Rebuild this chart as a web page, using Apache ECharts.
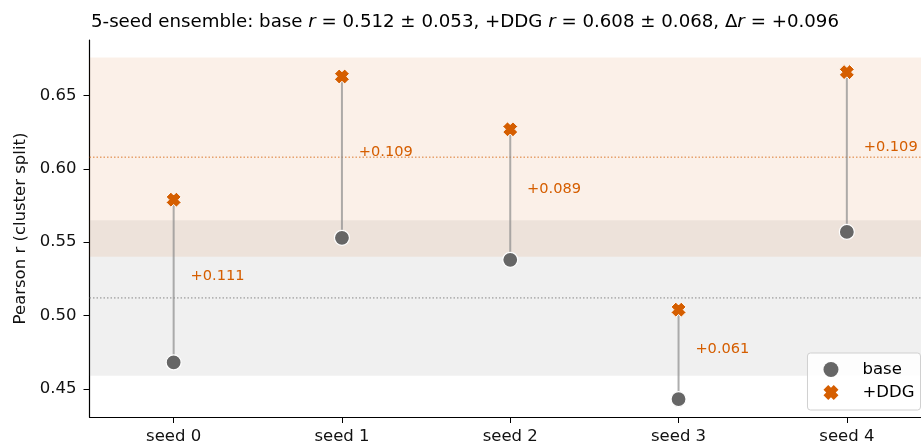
<!DOCTYPE html>
<html>
<head>
<meta charset="utf-8">
<script src="https://cdn.jsdelivr.net/npm/echarts@6/dist/echarts.min.js"></script>
<style>html,body{margin:0;padding:0;background:#fff}#c{width:921px;height:445px}</style>
</head>
<body>
<div id="c"></div>
<script>
const seeds = ['seed 0', 'seed 1', 'seed 2', 'seed 3', 'seed 4'];
const baseVals = [0.468, 0.553, 0.538, 0.443, 0.557];
const ddgVals = [0.579, 0.663, 0.627, 0.504, 0.666];
const deltaLabels = ['+0.111', '+0.109', '+0.089', '+0.061', '+0.109'];
const yTicks = [0.45, 0.50, 0.55, 0.60, 0.65];
const baseMean = 0.512, baseStd = 0.053;
const ddgMean = 0.608, ddgStd = 0.068;
const deltaMean = '+0.096';

const ORANGE = '#D55E00';
const FONT = 'DejaVu Sans';
const XPATH = 'path://M-1.1,-3 L0,-1.9 L1.1,-3 L3,-1.1 L1.9,0 L3,1.1 L1.1,3 L0,1.9 L-1.1,3 L-3,1.1 L-1.9,0 L-3,-1.1 Z';

const chart = echarts.init(document.getElementById('c'), null, {renderer: 'canvas'});
const idx = seeds.map((s, i) => i);

chart.setOption({
  animation: false,
  backgroundColor: '#fff',
  textStyle: {fontFamily: FONT},
  title: {
    left: 86, top: 8,
    text: '{n|5-seed ensemble: base }{i|r}{n| = ' + baseMean.toFixed(3) + ' ± ' + baseStd.toFixed(3) +
          ', +DDG }{i|r}{n| = ' + ddgMean.toFixed(3) + ' ± ' + ddgStd.toFixed(3) + ', Δ}{i|r}{n| = ' + deltaMean + '}',
    textStyle: {
      fontWeight: 'normal',
      rich: {
        n: {fontFamily: FONT, fontSize: 18.2, color: '#000', fontWeight: 'normal'},
        i: {fontFamily: FONT, fontSize: 18.2, color: '#000', fontStyle: 'italic', fontWeight: 'normal'}
      }
    }
  },
  grid: {left: 89.5, top: 40, right: 0, bottom: 27.5, containLabel: false},
  legend: {
    right: 0.5, top: 353,
    orient: 'vertical',
    padding: [8, 6, 9, 16],
    itemGap: 6,
    itemWidth: 15, itemHeight: 15,
    borderColor: '#d0d0d0', borderWidth: 1, borderRadius: 3,
    backgroundColor: 'rgba(255,255,255,0.85)',
    textStyle: {fontFamily: FONT, fontSize: 16.5, color: '#000', padding: [0, 0, 0, 19]},
    data: [
      {name: 'base', icon: 'circle', itemStyle: {color: '#666666', borderWidth: 0}},
      {name: '+DDG', icon: XPATH, itemStyle: {color: ORANGE, borderWidth: 0}}
    ]
  },
  xAxis: {
    type: 'value',
    min: -0.5, max: 4.4406,
    axisLine: {show: true, onZero: false, lineStyle: {color: '#000', width: 1.2}},
    axisTick: {show: true, length: 6, lineStyle: {color: '#000'}, customValues: idx},
    axisLabel: {fontFamily: FONT, fontSize: 16.5, color: '#111', margin: 11, customValues: idx,
      formatter: v => seeds[Math.round(v)]},
    splitLine: {show: false}
  },
  yAxis: {
    type: 'value',
    min: 0.4308, max: 0.6879,
    name: 'Pearson r (cluster split)',
    nameLocation: 'middle',
    nameGap: 57,
    nameTextStyle: {fontFamily: FONT, fontSize: 16.5, color: '#111'},
    axisLine: {show: true, onZero: false, lineStyle: {color: '#000', width: 1.2}},
    axisTick: {show: true, length: 6, lineStyle: {color: '#000'}, customValues: yTicks},
    axisLabel: {fontFamily: FONT, fontSize: 16.5, color: '#111', margin: 13, customValues: yTicks,
      formatter: v => v.toFixed(2)},
    splitLine: {show: false}
  },
  series: [
    {
      type: 'line', data: [], silent: true,
      markArea: {
        silent: true,
        data: [
          [{yAxis: baseMean - baseStd, itemStyle: {color: 'rgba(128,128,128,0.12)'}}, {yAxis: baseMean + baseStd}],
          [{yAxis: ddgMean - ddgStd, itemStyle: {color: 'rgba(213,94,0,0.09)'}}, {yAxis: ddgMean + ddgStd}]
        ]
      }
    },
    {
      type: 'custom', silent: true, z: 2,
      data: [[baseMean, 0], [ddgMean, 1]],
      renderItem: (params, api) => {
        const cs = params.coordSys;
        const y = api.coord([0, api.value(0)])[1];
        const col = params.dataIndex === 0 ? '#888' : 'rgba(213,94,0,0.8)';
        return {type: 'line', shape: {x1: cs.x, y1: y, x2: cs.x + cs.width, y2: y},
          style: {stroke: col, lineWidth: 1, lineDash: [1.5, 2]}};
      }
    },
    {
      type: 'custom', silent: true, z: 3,
      data: idx.map(i => [i, baseVals[i], ddgVals[i]]),
      renderItem: (params, api) => {
        const p1 = api.coord([api.value(0), api.value(1)]);
        const p2 = api.coord([api.value(0), api.value(2)]);
        return {type: 'line', shape: {x1: p1[0], y1: p1[1], x2: p2[0], y2: p2[1]},
          style: {stroke: 'rgba(140,140,140,0.7)', lineWidth: 2}};
      }
    },
    {
      type: 'custom', silent: true, z: 3,
      data: idx.map(i => [i + 0.1, (baseVals[i] + ddgVals[i]) / 2]),
      renderItem: (params, api) => {
        const p = api.coord([api.value(0), api.value(1)]);
        return {type: 'text', x: p[0], y: p[1] - 5,
          style: {text: deltaLabels[params.dataIndex], fill: ORANGE, fontFamily: FONT, fontSize: 14.6,
            textAlign: 'left', textVerticalAlign: 'middle'}};
      }
    },
    {
      name: 'base', type: 'scatter', z: 5,
      data: idx.map(i => [i, baseVals[i]]),
      symbol: 'circle', symbolSize: 15,
      itemStyle: {color: '#666666', borderColor: '#fff', borderWidth: 1.2, opacity: 1}
    },
    {
      name: '+DDG', type: 'scatter', z: 5,
      data: idx.map(i => [i, ddgVals[i]]),
      symbol: XPATH, symbolSize: 15,
      itemStyle: {color: ORANGE, borderColor: '#fff', borderWidth: 1, opacity: 1}
    }
  ]
});
</script>
</body>
</html>
